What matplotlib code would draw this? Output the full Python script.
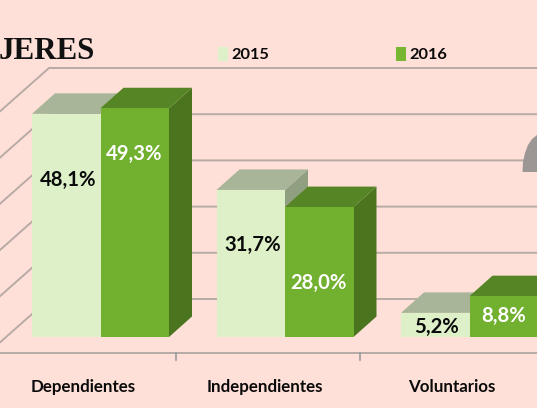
import matplotlib
matplotlib.use("Agg")
import matplotlib.pyplot as plt
from matplotlib.patches import Rectangle

categories = ["Dependientes", "Independientes", "Voluntarios"]
values_2015 = [48.1, 31.7, 5.2]
values_2016 = [49.3, 28.0, 8.8]
labels_2015 = ["48,1%", "31,7%", "5,2%"]
labels_2016 = ["49,3%", "28,0%", "8,8%"]
grid_values = [0, 10, 20, 30, 40, 50]

W, H = 537, 408
PX_Y = 4.64      # pixels per value unit
PX_X = 184.5     # pixels per category
X0, Y0 = 32, 337 # pixel of first bar left / value 0
BAR = 68.5 / PX_X
DX = 23 / PX_X
DY = 20.5 / PX_Y
BG = "#FFE0D8"
GRID = "#B7ABA6"
C15 = ("#DDF0C8", "#A8B598", "#909F80")
C16 = ("#72B030", "#568525", "#4B741F")

fig = plt.figure(figsize=(W / 100, H / 100), dpi=100, facecolor=BG)
ax = fig.add_axes([0, 0, 1, 1])
ax.set_xlim(-X0 / PX_X, (W - X0) / PX_X)
ax.set_ylim(-(H - Y0) / PX_Y, Y0 / PX_Y)
ax.axis("off")

fx = lambda px: (px - X0) / PX_X
fy = lambda px: (Y0 - px) / PX_Y

# Gridlines: back wall plus the left wall diagonals
wall_x = fx(49)
diag_x = fx(-12)
wall_base = fy(299)
diag_drop = 54 / PX_Y
for g in grid_values:
    yb = wall_base + g * (46.2 / 10) / PX_Y
    ax.plot([diag_x, wall_x, fx(W)], [yb - diag_drop, yb, yb],
            color=GRID, lw=1.4, zorder=1, solid_joinstyle="miter")

# x axis line and ticks
ax.plot([fx(0), fx(W)], [fy(353), fy(353)], color=GRID, lw=1.4, zorder=1)
for t in [176, 360]:
    ax.plot([fx(t), fx(t)], [fy(353), fy(360)], color="#9A9A9A", lw=1.2, zorder=1)


def bar3d(x, v, cols, z):
    ax.bar(x, v, BAR, bottom=0, align="edge", color=cols[0], lw=0, zorder=z + 0.2)
    ax.fill([x, x + BAR, x + BAR + DX, x + DX], [v, v, v + DY, v + DY],
            color=cols[1], lw=0, zorder=z + 0.1)
    ax.fill([x + BAR, x + BAR + DX, x + BAR + DX, x + BAR], [0, DY, v + DY, v],
            color=cols[2], lw=0, zorder=z)


for i, (a, b) in enumerate(zip(values_2015, values_2016)):
    bar3d(i, a, C15, 2 + i * 2)
    bar3d(i + BAR, b, C16, 3 + i * 2)

# Data labels
label_font = dict(family="Lato", weight="bold", fontsize=14.6, ha="center", va="center", zorder=20)
pos15 = [180, 245, 327]
pos16 = [154, 283, 316]
shift16 = [0, 0, 0.006]
for i in range(3):
    ax.text(i + BAR / 2 + 0.008, fy(pos15[i]), labels_2015[i], color="#0a0a0a", **label_font)
    ax.text(i + BAR * 1.5 - 0.004 + shift16[i], fy(pos16[i]), labels_2016[i], color="white", **label_font)

# Category labels
for cx, c in zip([83, 265, 452], categories):
    ax.text(fx(cx), fy(387), c, family="Lato", weight="bold", fontsize=12.2,
            ha="center", va="center", color="#0a0a0a")

# Title fragment
ax.text(fx(-1), fy(59), "JERES", family="Liberation Serif", weight="bold",
        fontsize=22.3, ha="left", va="baseline", color="#111111")

# Legend
for lx, col, txt in [(218, "#DDF0C8", "2015"), (396, "#78B530", "2016")]:
    ax.add_patch(Rectangle((fx(lx), fy(61)), 10 / PX_X, 13.5 / PX_Y, color=col, lw=0, zorder=5))
    ax.text(fx(lx + 13.5), fy(55), txt, family="Lato", weight="bold", fontsize=11.8,
            ha="left", va="center", color="#0a0a0a")

# Grey shape clipped by the right edge
ax.fill([fx(p) for p in [522.5, 523, 525, 528, 532, 537, 537]],
        [fy(p) for p in [172, 162, 153, 145, 139, 135, 172]],
        color="#9C9794", lw=0, zorder=6)

fig.savefig("out.png", dpi=100, facecolor=BG)
